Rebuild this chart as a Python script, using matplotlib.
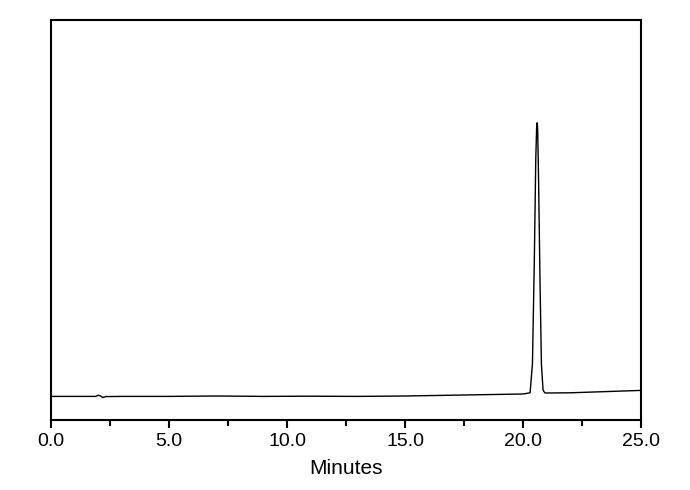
import matplotlib.pyplot as plt
import numpy as np

plt.rcParams['font.family'] = ['Liberation Sans', 'DejaVu Sans']

# chromatogram trace (signal in arbitrary units)
minutes = [0.0, 1.0, 1.9, 2.0, 2.1, 2.2, 2.3, 3.0, 5.0, 7.0, 9.0, 11.0, 13.0, 14.0,
           15.0, 16.0, 17.0, 18.0, 19.0, 20.0, 20.30, 20.40, 20.48, 20.54, 20.58,
           20.60, 20.62, 20.66, 20.72, 20.78, 20.85, 20.92, 21.0, 22.0, 23.0, 24.0, 25.0]
signal = [5.9, 5.9, 5.9, 6.2, 6.0, 5.6, 5.85, 5.9, 5.9, 6.0, 5.9, 5.95, 5.9, 5.95,
          6.0, 6.1, 6.2, 6.3, 6.4, 6.5, 6.8, 14.0, 40.0, 65.0, 73.5,
          74.3, 73.0, 60.0, 35.0, 14.0, 7.5, 6.8, 6.75, 6.8, 7.0, 7.2, 7.4]

xticks = [0, 5, 10, 15, 20, 25]
xticklabels = ['0.0', '5.0', '10.0', '15.0', '20.0', '25.0']

fig = plt.figure(figsize=(6.9, 4.9), dpi=100)
ax = fig.add_axes([51 / 690, 70 / 490, 590 / 690, 400 / 490])

ax.plot(minutes, signal, color='black', linewidth=1.0)

ax.set_xlim(0, 25)
ax.set_ylim(0, 100)
ax.set_xticks(xticks)
ax.set_xticklabels(xticklabels, fontsize=14)
ax.set_xticks(np.arange(2.5, 25, 5), minor=True)
ax.set_yticks([])
ax.tick_params(axis='x', which='major', direction='out', length=6, width=1.5)
ax.tick_params(axis='x', which='minor', direction='out', length=4, width=1.5)
for s in ax.spines.values():
    s.set_linewidth(1.5)

ax.set_xlabel('Minutes', fontsize=15, labelpad=6)

fig.savefig('out.png', dpi=100)
